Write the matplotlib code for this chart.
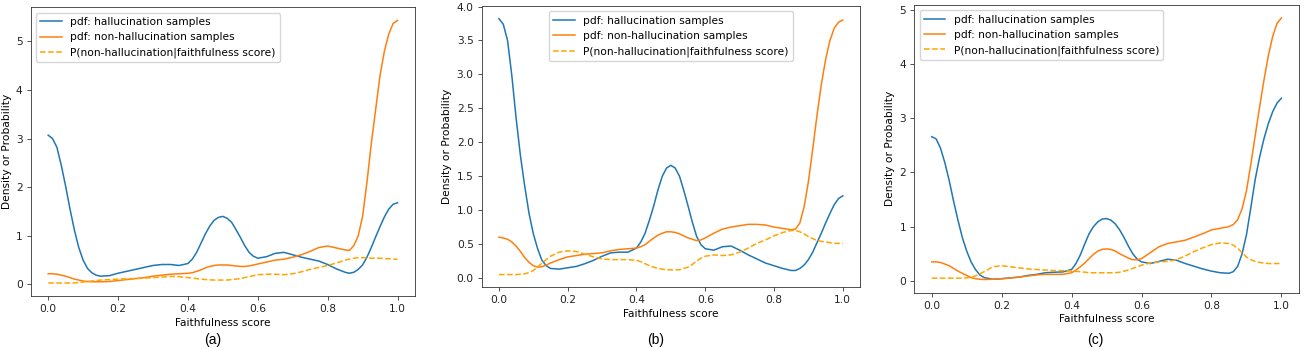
import numpy as np
import matplotlib
matplotlib.use("Agg")
import matplotlib.pyplot as plt

# faithfulness scores where the curves were read off the picture
# (finer steps where the curves move fast)
score = np.round(np.concatenate([
    np.arange(0, 13) * 0.0125,           # 0.0   .. 0.15
    0.175 + np.arange(0, 9) * 0.025,     # 0.175 .. 0.375
    0.4 + np.arange(0, 17) * 0.0125,     # 0.4   .. 0.6
    0.625 + np.arange(0, 9) * 0.025,     # 0.625 .. 0.825
    0.85 + np.arange(0, 13) * 0.0125,    # 0.85  .. 1.0
]), 4)

# ---- panel (a)
a_hall = [3.07, 3.00, 2.82, 2.45, 2.02, 1.55, 1.12, 0.76, 0.50, 0.33, 0.24, 0.19, 0.17,
          0.18, 0.23, 0.27, 0.31, 0.35, 0.39, 0.41, 0.41, 0.39,
          0.43, 0.52, 0.66, 0.85, 1.04, 1.20, 1.32, 1.38, 1.40, 1.36, 1.28, 1.13, 0.97, 0.80, 0.66, 0.58, 0.54,
          0.57, 0.64, 0.66, 0.61, 0.56, 0.52, 0.48, 0.41, 0.32,
          0.25, 0.23, 0.25, 0.31, 0.40, 0.56, 0.76, 0.98, 1.19, 1.39, 1.55, 1.65, 1.68]
a_nonhall = [0.22, 0.22, 0.21, 0.19, 0.17, 0.14, 0.11, 0.09, 0.07, 0.06, 0.055, 0.055, 0.055,
             0.06, 0.08, 0.10, 0.12, 0.14, 0.17, 0.19, 0.21, 0.22,
             0.23, 0.24, 0.27, 0.30, 0.34, 0.37, 0.39, 0.40, 0.40, 0.40, 0.39, 0.38, 0.37, 0.37, 0.38, 0.40, 0.42,
             0.46, 0.50, 0.52, 0.56, 0.61, 0.68, 0.76, 0.79, 0.75,
             0.71, 0.70, 0.80, 1.00, 1.40, 2.10, 2.90, 3.60, 4.30, 4.80, 5.15, 5.37, 5.43]
a_prob = [0.03, 0.03, 0.03, 0.03, 0.03, 0.03, 0.03, 0.04, 0.05, 0.06, 0.07, 0.08, 0.09,
          0.10, 0.11, 0.115, 0.12, 0.13, 0.14, 0.15, 0.165, 0.16,
          0.14, 0.13, 0.12, 0.11, 0.10, 0.095, 0.09, 0.09, 0.09, 0.09, 0.10, 0.11, 0.12, 0.14, 0.16, 0.18, 0.20,
          0.21, 0.21, 0.20, 0.22, 0.26, 0.31, 0.35, 0.39, 0.44,
          0.50, 0.52, 0.54, 0.55, 0.55, 0.55, 0.54, 0.54, 0.54, 0.53, 0.53, 0.52, 0.52]

# ---- panel (b)
b_hall = [3.82, 3.74, 3.50, 2.98, 2.35, 1.80, 1.35, 0.95, 0.65, 0.43, 0.26, 0.18, 0.14,
          0.13, 0.15, 0.17, 0.21, 0.26, 0.32, 0.37, 0.38, 0.38,
          0.44, 0.53, 0.66, 0.85, 1.06, 1.30, 1.50, 1.62, 1.66, 1.62, 1.50, 1.29, 1.06, 0.82, 0.61, 0.49, 0.43,
          0.41, 0.46, 0.47, 0.41, 0.34, 0.28, 0.22, 0.18, 0.14,
          0.11, 0.11, 0.14, 0.19, 0.27, 0.38, 0.52, 0.66, 0.81, 0.95, 1.08, 1.17, 1.21]
b_nonhall = [0.60, 0.59, 0.57, 0.53, 0.47, 0.39, 0.30, 0.23, 0.18, 0.16, 0.165, 0.19, 0.22,
             0.27, 0.31, 0.33, 0.35, 0.36, 0.37, 0.40, 0.42, 0.43,
             0.44, 0.46, 0.49, 0.54, 0.59, 0.63, 0.66, 0.68, 0.68, 0.67, 0.65, 0.62, 0.59, 0.57, 0.55, 0.56, 0.59,
             0.66, 0.72, 0.75, 0.77, 0.79, 0.79, 0.78, 0.75, 0.73,
             0.71, 0.72, 0.81, 1.05, 1.42, 1.90, 2.40, 2.85, 3.22, 3.50, 3.68, 3.77, 3.80]
b_prob = [0.05, 0.05, 0.05, 0.05, 0.05, 0.055, 0.06, 0.08, 0.11, 0.16, 0.22, 0.27, 0.32,
          0.38, 0.40, 0.39, 0.35, 0.31, 0.28, 0.27, 0.27, 0.27,
          0.26, 0.24, 0.21, 0.18, 0.16, 0.14, 0.13, 0.12, 0.12, 0.12, 0.12, 0.14, 0.16, 0.20, 0.25, 0.29, 0.32,
          0.34, 0.33, 0.34, 0.38, 0.44, 0.51, 0.56, 0.62, 0.67,
          0.70, 0.70, 0.68, 0.65, 0.61, 0.58, 0.55, 0.54, 0.53, 0.52, 0.51, 0.51, 0.51]

# ---- panel (c)
c_hall = [2.66, 2.62, 2.45, 2.18, 1.85, 1.47, 1.12, 0.80, 0.55, 0.35, 0.21, 0.11, 0.06,
          0.03, 0.04, 0.055, 0.07, 0.10, 0.12, 0.15, 0.16, 0.165,
          0.21, 0.32, 0.48, 0.68, 0.87, 1.00, 1.09, 1.14, 1.15, 1.12, 1.05, 0.94, 0.80, 0.64, 0.50, 0.40, 0.35,
          0.32, 0.36, 0.40, 0.38, 0.32, 0.27, 0.22, 0.18, 0.15,
          0.14, 0.17, 0.27, 0.50, 0.85, 1.35, 1.87, 2.28, 2.62, 2.90, 3.12, 3.28, 3.37]
c_nonhall = [0.35, 0.35, 0.34, 0.31, 0.28, 0.23, 0.18, 0.14, 0.10, 0.06, 0.04, 0.03, 0.025,
             0.03, 0.04, 0.055, 0.07, 0.09, 0.11, 0.12, 0.12, 0.12,
             0.15, 0.20, 0.26, 0.33, 0.41, 0.49, 0.55, 0.58, 0.59, 0.58, 0.55, 0.50, 0.46, 0.42, 0.39, 0.39, 0.41,
             0.52, 0.63, 0.69, 0.72, 0.75, 0.81, 0.87, 0.94, 0.97,
             1.00, 1.04, 1.13, 1.33, 1.66, 2.15, 2.68, 3.20, 3.70, 4.15, 4.51, 4.75, 4.85]
c_prob = [0.05, 0.05, 0.05, 0.05, 0.05, 0.05, 0.05, 0.05, 0.055, 0.07, 0.09, 0.13, 0.17,
          0.26, 0.28, 0.26, 0.24, 0.22, 0.21, 0.20, 0.19, 0.19,
          0.18, 0.175, 0.17, 0.16, 0.15, 0.15, 0.15, 0.15, 0.15, 0.15, 0.15, 0.16, 0.18, 0.20, 0.23, 0.26, 0.29,
          0.33, 0.35, 0.36, 0.39, 0.46, 0.54, 0.61, 0.67, 0.70,
          0.69, 0.66, 0.60, 0.52, 0.44, 0.39, 0.36, 0.34, 0.33, 0.32, 0.32, 0.32, 0.32]

captions = ["(a)", "(b)", "(c)"]
legend_locs = ["upper left", "upper center", "upper left"]

plt.rcParams["font.family"] = "DejaVu Sans"
plt.rcParams["font.size"] = 7.7
plt.rcParams["axes.linewidth"] = 0.6
plt.rcParams["xtick.major.width"] = 0.6
plt.rcParams["ytick.major.width"] = 0.6
plt.rcParams["xtick.major.size"] = 3.0
plt.rcParams["ytick.major.size"] = 3.0
plt.rcParams["xtick.major.pad"] = 2.8
plt.rcParams["ytick.major.pad"] = 2.8


def main():
    fig = plt.figure(figsize=(13.07, 3.5), dpi=100)

    boxes = [[0.0235, 0.154, 0.294, 0.825],
             [0.3686, 0.179, 0.2894, 0.804],
             [0.6995, 0.164, 0.2943, 0.822]]
    caption_x = [0.163, 0.502, 0.838]
    panels = [(a_hall, a_nonhall, a_prob),
              (b_hall, b_nonhall, b_prob),
              (c_hall, c_nonhall, c_prob)]

    for i, (hall, nonhall, prob) in enumerate(panels):
        ax = fig.add_axes(boxes[i])
        ax.plot(score, hall, color="#1f77b4", lw=1.1,
                label="pdf: hallucination samples")
        ax.plot(score, nonhall, color="#ff7f0e", lw=1.1,
                label="pdf: non-hallucination samples")
        ax.plot(score, prob, color="orange", lw=1.1, ls="--",
                label="P(non-hallucination|faithfulness score)")
        ax.set_xlabel("Faithfulness score", labelpad=2.5)
        ax.set_ylabel("Density or Probability", labelpad=3)
        ax.legend(loc=legend_locs[i], handlelength=2.0)
        for sp in ax.spines.values():
            sp.set_color("#333333")
        ax.tick_params(colors="#333333", labelcolor="#222222")

        fig.text(caption_x[i], 0.028, captions[i], ha="center", va="center",
                 fontsize=10, family="Liberation Sans")

    fig.savefig("out.png", dpi=100)


if __name__ == '__main__':
    main()
